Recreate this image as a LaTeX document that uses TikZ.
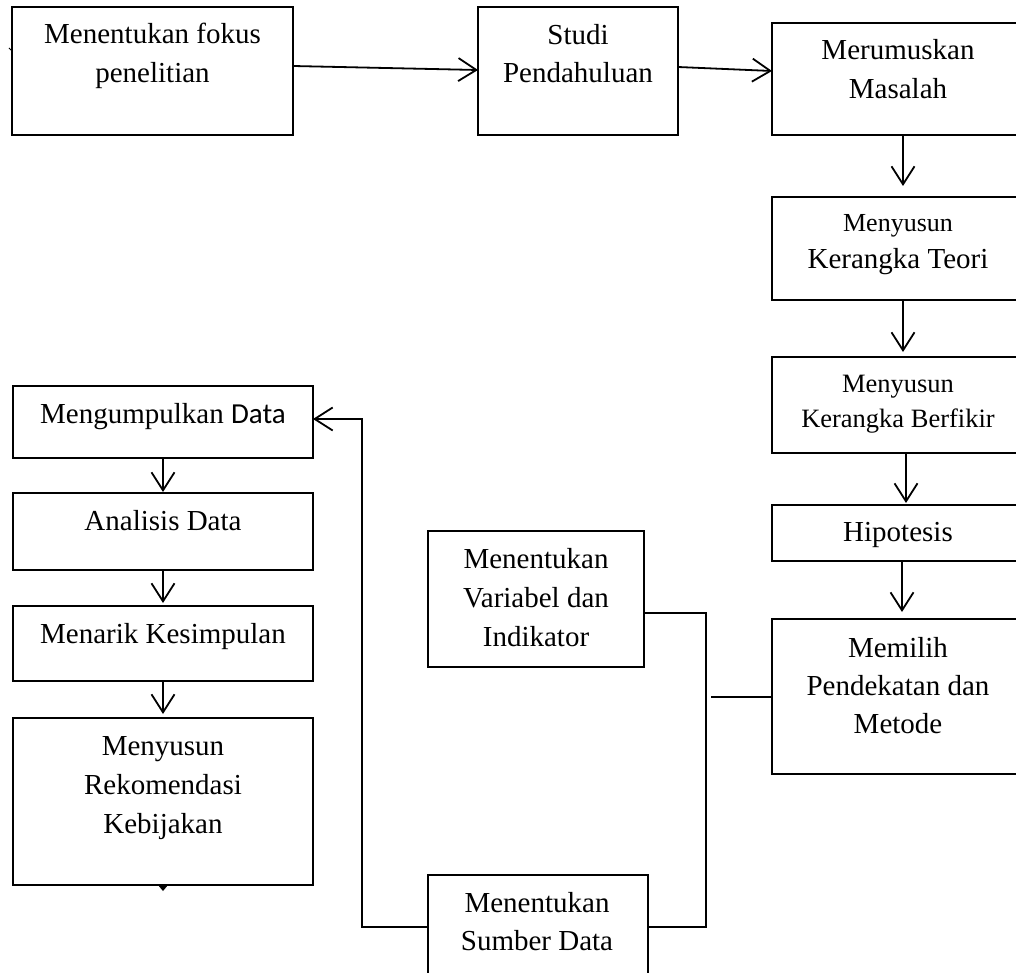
\documentclass[tikz,border=0pt]{standalone}
\usepackage{fontspec}
\setmainfont{Liberation Serif}
\newfontfamily\calibrifont{Carlito}
\usetikzlibrary{arrows.meta}
\tikzset{
  box/.style={draw=black, line width=1.5pt, rectangle, inner sep=0pt, outer sep=0pt, anchor=north west},
  txt/.style={font=\fontsize{29}{38.5}\selectfont, align=center, anchor=base, inner sep=0pt},
  conn/.style={line width=1.8pt, black},
  arr/.style={conn, -{Straight Barb[length=18pt, width=23pt]}}
}
\begin{document}
\begin{tikzpicture}[x=1pt, y=-1pt]
\useasboundingbox (0,0) rectangle (1016,973);
% boxes
\node[box, minimum width=281pt, minimum height=128pt] (A) at (12,7) {};
\node[box, minimum width=200pt, minimum height=128pt] (B) at (478,7) {};
\node[box, minimum width=252pt, minimum height=112pt] (C) at (772,23) {};
\node[box, minimum width=252pt, minimum height=103pt] (D) at (772,197) {};
\node[box, minimum width=252pt, minimum height=96pt] (E) at (772,357) {};
\node[box, minimum width=252pt, minimum height=56pt] (F) at (772,505) {};
\node[box, minimum width=252pt, minimum height=155pt] (G) at (772,619) {};
\node[box, minimum width=216pt, minimum height=136pt] (H) at (428,531) {};
\node[box, minimum width=220pt, minimum height=125pt] (I) at (428,875) {};
\node[box, minimum width=300pt, minimum height=72pt] (J) at (13,386) {};
\node[box, minimum width=300pt, minimum height=77pt] (K) at (13,493) {};
\node[box, minimum width=300pt, minimum height=75pt] (L) at (13,606) {};
\node[box, minimum width=300pt, minimum height=167pt] (M) at (13,718) {};
% texts (anchor = baseline of last line)
\node[txt, font=\fontsize{29}{39}\selectfont] (At) at (152.5,83) {Menentukan fokus\\penelitian};
\node[txt, font=\fontsize{29}{38}\selectfont] (Bt) at (578,83) {Studi\\Pendahuluan};
\node[txt, font=\fontsize{29}{39}\selectfont] (Ct) at (898,99) {Merumuskan\\Masalah};
\node[txt, font=\fontsize{29}{37}\selectfont] (Dt) at (898,269) {{\fontsize{26}{37}\selectfont Menyusun}\\Kerangka Teori};
\node[txt, font=\fontsize{26.5}{35}\selectfont] (Et) at (898,427) {Menyusun\\Kerangka Berfikir};
\node[txt] (Ft) at (898,541) {Hipotesis};
\node[txt, font=\fontsize{29}{38}\selectfont] (Gt) at (898,733) {Memilih\\Pendekatan dan\\Metode};
\node[txt, font=\fontsize{29}{39}\selectfont] (Ht) at (536,646) {Menentukan\\Variabel dan\\Indikator};
\node[txt, font=\fontsize{29}{38}\selectfont] (It) at (537,950) {Menentukan\\Sumber Data};
\node[txt] (Jt) at (163,423) {Mengumpulkan {\calibrifont Data}};
\node[txt] (Kt) at (163,530) {Analisis Data};
\node[txt] (Lt) at (163,643) {Menarik Kesimpulan};
\node[txt, font=\fontsize{29}{39}\selectfont] (Mt) at (163,833) {Menyusun\\Rekomendasi\\Kebijakan};
% junction coordinates
\coordinate (j1) at (706,613);
\coordinate (j2) at (706,927);
\coordinate (gj) at (711,697);
\coordinate (l1) at (362,927);
\coordinate (l2) at (362,419);
% connectors
\draw[arr] ([yshift=5pt]A.east) -- ([yshift=1pt]B.west);
\draw[arr] ([yshift=4pt]B.east) -- ([yshift=8pt]C.west);
\draw[arr, shorten >=11pt] ([xshift=5pt]C.south) -- ([xshift=5pt]D.north);
\draw[arr, shorten >=5pt] ([xshift=5pt]D.south) -- ([xshift=5pt]E.north);
\draw[arr, shorten >=2pt] ([xshift=8pt]E.south) -- ([xshift=8pt]F.north);
\draw[arr, shorten >=7pt] ([xshift=4pt]F.south) -- ([xshift=4pt]G.north);
\draw[conn] (H.east |- j1) -- (j1) -- (j2) -- (I.east |- j2);
\draw[conn] (G.west |- gj) -- (gj);
\draw[arr] (I.west |- l1) -- (l1) -- (l2) -- (J.east |- l2);
\draw[arr, shorten >=1pt] (J.south) -- (K.north);
\draw[arr, shorten >=3pt] (K.south) -- (L.north);
\draw[arr, shorten >=4pt] (L.south) -- (M.north);
\fill ([xshift=-5pt]M.south) -- ([xshift=5pt]M.south) -- ([yshift=-6pt]M.south) -- cycle;
\draw[line width=1pt] (9,48) -- (11.5,50.5);
\end{tikzpicture}
\end{document}
